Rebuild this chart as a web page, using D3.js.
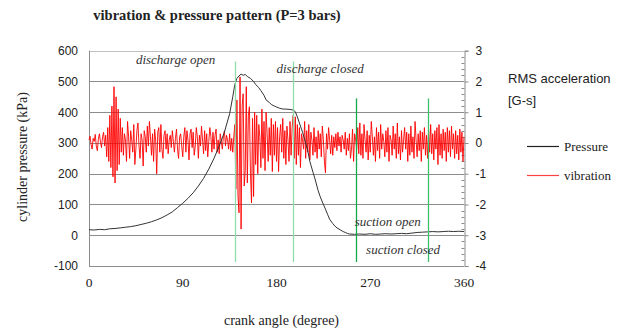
<!DOCTYPE html>
<html><head><meta charset="utf-8">
<script src="https://cdn.jsdelivr.net/npm/d3@7"></script>
<style>body{margin:0;background:#fff}svg{display:block}</style>
</head><body><svg id="c" width="630" height="333"></svg>
<script>
// ---- data ----
const xTicks = [0, 90, 180, 270, 360];
const leftTicks = [-100, 0, 100, 200, 300, 400, 500, 600];
const rightTicks = [-4, -3, -2, -1, 0, 1, 2, 3];
const pressureAngle = [0,5,10,15,20,25,30,35,40,45,50,55,60,65,70,75,80,85,90,95,100,105,110,115,120,125,130,135,138,140,142,144,146,148,150,152,155,158,160,163,165,168,170,173,175,178,180,183,185,188,190,193,196,198,200,202,205,208,210,212,215,217,220,222,225,227,229,231,234,236,238,241,244,246,248,250,255,260,265,270,275,280,285,290,295,300,305,310,315,320,325,330,335,340,345,350,355,360];
const pressure = [18,17,19,18,21,22,24,26,28,31,35,39,44,50,57,66,76,90,104,120,138,160,185,215,250,290,335,395,450,490,510,518,524,520,523,516,510,500,490,480,470,455,440,432,425,420,417,413,411,410,410,409,407,402,385,365,335,300,275,240,205,183,145,125,100,85,68,52,38,30,24,18,12,9,6,4,3,4,3,5,3,4,5,4,5,6,5,7,9,10,11,12,11,12,13,12,13,12];
const vibration = [
0.1,0.22,-0.05,-0.2,0.15,0.05,0.28,-0.1,-0.25,0.12,0.3,0.02,-0.15,0.2,0.35,-0.1,0.25,-0.45,0.5,-0.6,
0.9,-0.8,1.2,-1.1,1.83,-1.3,1.5,-0.9,1.1,-0.7,0.8,-0.3,0.5,-0.4,0.3,0.1,-0.6,0.7,0.2,-0.5,
0.4,0.1,-0.3,0.6,-0.7,-0.2,0.4,0.65,-0.1,-0.5,0.3,0.1,-0.75,0.4,0.2,-0.3,0.55,-0.1,0.7,0.2,
-0.4,0.3,-0.6,0.45,0.1,-1.0,0.35,0.5,-0.3,0.6,-0.2,-0.5,0.25,0.4,-0.2,0.3,-0.35,0.1,0.25,-0.15,
0.4,0.05,-0.3,0.15,0.45,-0.2,-0.5,0.2,0.3,-0.1,-0.45,0.2,0.5,-0.3,0.4,0.1,-0.55,0.3,0.45,-0.15,
0.35,-0.4,-0.1,0.5,0.2,-0.5,0.25,-0.1,0.55,0.1,-0.35,0.4,-0.25,0.3,-0.45,0.05,0.5,0.2,-0.3,0.35,
-0.2,0.25,0.45,-0.3,0.1,-0.35,0.3,0.05,-0.2,0.2,0.4,-0.1,0.25,0.1,-0.2,0.3,-0.25,0.15,-0.3,0.2,
0.6,-1.5,1.4,-1.7,-2.27,2.15,-2.8,1.2,1.6,-1.4,-0.9,1.83,-1.3,0.9,1.18,-1.0,-1.95,0.8,-1.74,1.0,
-0.7,0.9,-1.0,0.6,0.2,-0.8,1.1,-0.5,0.7,-0.9,1.0,0.3,-0.6,0.5,-0.4,0.8,-0.93,0.6,-0.4,0.7,
-0.6,0.5,-0.93,0.2,0.6,-0.3,0.8,-0.5,0.4,-0.7,0.55,0.1,-0.6,0.7,-0.4,0.5,0.9,-0.5,0.85,-0.7,
0.6,-0.4,0.5,-0.8,0.3,0.1,-0.2,0.7,-0.5,0.4,-0.3,0.6,-0.55,0.35,0.1,-0.4,0.5,-0.3,0.2,-0.5,
0.4,-0.2,0.3,-0.45,0.55,0.1,-0.6,-0.97,0.3,-0.2,0.5,0.1,-0.35,0.25,-0.4,0.2,-0.15,0.3,-0.25,0.35,
-0.1,0.2,-0.3,0.25,0.1,-0.2,0.35,-0.4,0.15,-0.25,0.3,-0.5,-0.2,0.45,-0.6,0.3,0.1,-0.2,0.5,-0.35,
0.65,-0.4,0.3,-0.5,0.6,0.1,-0.3,0.4,-0.55,0.25,-0.3,0.7,0.2,-0.4,0.2,-0.6,0.5,-0.25,0.35,-0.5,
0.6,-0.2,0.3,0.05,-0.45,0.4,-0.3,0.5,-0.6,0.25,0.1,-0.4,0.55,-0.2,0.3,-0.5,0.65,-0.35,0.2,-0.55,
0.4,-0.3,0.1,0.5,-0.2,0.35,-0.6,0.3,-0.4,0.55,-0.3,0.2,-0.5,0.7,0.1,-0.45,0.3,-0.25,0.4,-0.6,
0.35,-0.2,0.5,-0.4,0.25,-0.5,0.45,-0.3,0.6,-0.35,0.3,-0.55,0.4,-0.2,0.5,-0.7,0.6,-0.4,0.3,-0.5,
0.45,-0.25,0.35,-0.6,0.5,-0.3,0.4,-0.45,0.55,-0.2,0.3,-0.5,0.4,-0.35,0.25,-0.55,0.45,-0.3,0.35,-0.6,0.2];
const vibrationAngle = d3.range(vibration.length);
const markerAngle = [140, 195.5, 256, 325.5];
const markerTop = [565, 565, 445, 445];
const markerBottom = [-87, -87, -87, -87];
const markerColor = ["#8edcaa", "#8edcaa", "#16a94c", "#3cc06c"];
const annotations = ["discharge open", "discharge closed", "suction open", "suction closed"];
const annotationAngle = [45, 180, 255, 266];
const annotationValue = [558, 526, 31, -60];

// ---- chart ----
const svg = d3.select("#c");
const L = 89, R = 464, T = 50.7, B = 266;
const x = d3.scaleLinear().domain([0, 360]).range([L, R]);
const yL = d3.scaleLinear().domain([-100, 600]).range([B, T]);
const yR = d3.scaleLinear().domain([-4, 3]).range([B, T]);
const serif = "'Liberation Serif','Times New Roman',serif";
const sans = "'Liberation Sans',Arial,sans-serif";

svg.append("rect").attr("width", 630).attr("height", 333).attr("fill", "#fff");

// gridlines
svg.append("g").selectAll("line").data(leftTicks.filter(d => d > -100)).join("line")
  .attr("x1", L).attr("x2", R).attr("y1", d => Math.round(yL(d)) + 0.5).attr("y2", d => Math.round(yL(d)) + 0.5)
  .attr("stroke", d => d === 600 ? "#c0c0c0" : "#8c8c8c").attr("stroke-width", 1);

// axes lines
svg.append("line").attr("x1", L + 0.5).attr("x2", L + 0.5).attr("y1", T).attr("y2", B).attr("stroke", "#8c8c8c");
svg.append("line").attr("x1", L).attr("x2", R).attr("y1", B + 0.5).attr("y2", B + 0.5).attr("stroke", "#8c8c8c");

// right axis
const gR = svg.append("g").attr("transform", `translate(${R + 0.5},0)`);
gR.call(d3.axisRight(yR).tickValues(rightTicks).tickSize(4).tickFormat(d => String(d)))
  .call(g => g.select(".domain").attr("stroke", "#8c8c8c"))
  .call(g => g.selectAll(".tick line").attr("stroke", "#8c8c8c"))
  .call(g => g.selectAll(".tick text").attr("x", 11).attr("font-family", sans).attr("font-size", 12).attr("fill", "#222"));
const minor = d3.range(-4, 3.0001, 0.2).filter(v => Math.abs(v - Math.round(v)) > 1e-6);
gR.append("g").selectAll("line").data(minor).join("line")
  .attr("x1", -3).attr("x2", 0).attr("y1", d => Math.round(yR(d)) + 0.5).attr("y2", d => Math.round(yR(d)) + 0.5)
  .attr("stroke", "#8c8c8c");

// left tick labels
svg.append("g").selectAll("text").data(leftTicks).join("text")
  .attr("x", 78).attr("y", d => yL(d)).attr("dy", "0.36em").attr("text-anchor", "end")
  .attr("font-family", sans).attr("font-size", 12).attr("fill", "#222").text(d => d);

// bottom tick labels
svg.append("g").selectAll("text").data(xTicks).join("text")
  .attr("x", d => x(d)).attr("y", 287).attr("text-anchor", "middle")
  .attr("font-family", serif).attr("font-size", 13.5).attr("fill", "#222").text(d => d);

// vibration line
svg.append("path").datum(vibration.map((v, i) => [vibrationAngle[i], v]))
  .attr("fill", "none").attr("stroke", "#ff0000").attr("stroke-width", 0.9)
  .attr("d", d3.line().x(d => x(d[0])).y(d => yR(d[1])));

// pressure line
svg.append("path").datum(pressure.map((v, i) => [pressureAngle[i], v]))
  .attr("fill", "none").attr("stroke", "#333").attr("stroke-width", 1)
  .attr("d", d3.line().x(d => x(d[0])).y(d => yL(d[1])));

// markers
svg.append("g").selectAll("line").data(markerAngle).join("line")
  .attr("x1", d => Math.round(x(d)) + 0.5).attr("x2", d => Math.round(x(d)) + 0.5)
  .attr("y1", (d, i) => yL(markerTop[i])).attr("y2", (d, i) => yL(markerBottom[i]))
  .attr("stroke", (d, i) => markerColor[i]).attr("stroke-width", 1.3);

// annotations
svg.append("g").selectAll("text").data(annotations).join("text")
  .attr("x", (d, i) => x(annotationAngle[i])).attr("y", (d, i) => yL(annotationValue[i]))
  .attr("font-family", serif).attr("font-style", "italic").attr("font-size", 13).attr("fill", "#333").text(d => d);

// title
svg.append("text").attr("x", 217).attr("y", 20).attr("text-anchor", "middle")
  .attr("font-family", serif).attr("font-weight", "bold").attr("font-size", 14.5).attr("fill", "#222")
  .text("vibration & pressure pattern (P=3 bars)");

// axis titles
svg.append("text").attr("x", 281.5).attr("y", 325).attr("text-anchor", "middle")
  .attr("font-family", serif).attr("font-size", 14).attr("fill", "#222").text("crank angle (degree)");
svg.append("text").attr("transform", "translate(27,157) rotate(-90)").attr("text-anchor", "middle")
  .attr("font-family", serif).attr("font-size", 14).attr("fill", "#222").text("cylinder pressure (kPa)");
svg.append("text").attr("x", 508).attr("y", 83).attr("font-family", sans).attr("font-size", 13).attr("fill", "#222").text("RMS acceleration");
svg.append("text").attr("x", 508).attr("y", 105).attr("font-family", sans).attr("font-size", 13).attr("fill", "#222").text("[G-s]");

// legend
const legendNames = ["Pressure", "vibration"];
const legendColors = ["#222", "#ff4040"];
const lg = svg.append("g").selectAll("g").data(legendNames).join("g")
  .attr("transform", (d, i) => `translate(527,${146 + i * 29})`);
lg.append("line").attr("x1", 0).attr("x2", 32).attr("y1", 0.5).attr("y2", 0.5).attr("stroke", (d, i) => legendColors[i]).attr("stroke-width", 1.2);
lg.append("text").attr("x", 37).attr("y", 4.5).attr("font-family", serif).attr("font-size", 13).attr("fill", "#222").text(d => d);
</script></body></html>
